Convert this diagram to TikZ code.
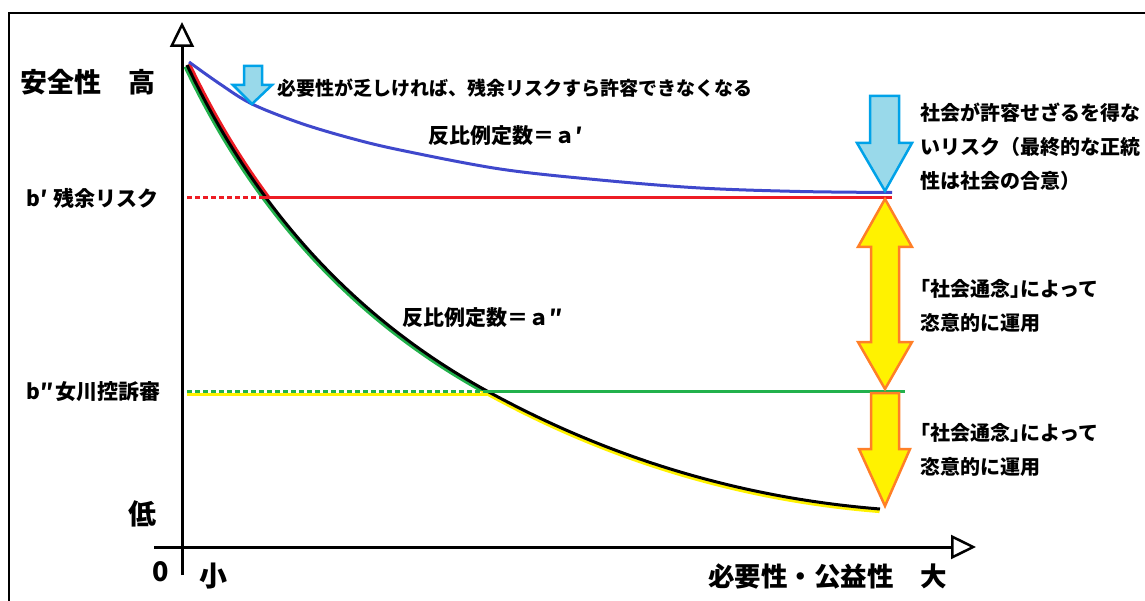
\documentclass[tikz,border=0pt]{standalone}
\usepackage{fontspec}
\newfontfamily\jp{Noto Sans CJK JP}
\newfontfamily\jph{Noto Sans CJK JP}[RawFeature=+halt]
\usetikzlibrary{arrows.meta}
\definecolor{cblue}{HTML}{3F48CC}
\definecolor{cred}{HTML}{ED1C24}
\definecolor{cgreen}{HTML}{22B14C}
\definecolor{cyellow}{HTML}{FFF200}
\definecolor{corange}{HTML}{FF7F27}
\definecolor{lblue}{HTML}{99D9EA}
\definecolor{dblue}{HTML}{00A2E8}
\newcommand{\blackcurve}{(187,65) .. controls (262,223) and (367,325) .. (487,391) .. controls (617,462.5) and (750,498.6) .. (880,509)}
\newcommand{\tsn}{{\jph\bfseries 「}社会通念{\jph\bfseries 」}によって\\恣意的に運用}
\begin{document}
\begin{tikzpicture}[x=1pt,y=-1pt,
  curve/.style={line width=3pt},
  axis/.style={line width=3pt,-{Triangle[open,length=25pt,width=24pt,line width=2.5pt]}},
  blueArrow/.style={draw=dblue,fill=lblue,line width=2.5pt},
  yArrow/.style={draw=corange,fill=cyellow,line width=2.5pt},
  lbl/.style={inner sep=0pt,anchor=west,font=\jp\bfseries\fontsize{21pt}{25pt}\selectfont},
  big/.style={inner sep=0pt,anchor=west,font=\jp\bfseries\fontsize{27pt}{30pt}\selectfont},
  note/.style={inner sep=0pt,anchor=west,align=left,font=\jp\bfseries\fontsize{20pt}{34pt}\selectfont},
  dashline/.style={line width=3pt,dash pattern=on 5pt off 3pt}
]
\useasboundingbox (0,0) rectangle (1145,601);
% frame
\draw[line width=2pt] (9,601) -- (9,13) -- (1145,13);

% coloured traces along the black curve
\begin{scope}
  \clip (0,0) rectangle (1145,198);
  \draw[curve,cred,shift={(2.5,-1)}] \blackcurve;
\end{scope}
\begin{scope}
  \clip (0,0) rectangle (1145,391);
  \draw[curve,cgreen,shift={(-2,1.8)}] \blackcurve;
\end{scope}
\begin{scope}
  \clip (0,391) rectangle (1145,601);
  \draw[curve,cyellow,shift={(-0.5,2.6)}] \blackcurve;
\end{scope}
\draw[curve,black] \blackcurve;

% blue curve
\draw[curve,cblue] plot[smooth,tension=0.55] coordinates {(189,62) (220,84) (252,104) (300,123) (350,138) (400,150) (500,169) (600,180) (700,188) (800,191.5) (892,192.5)};

% horizontal levels
\coordinate (bpl) at (187,198);
\coordinate (bpc) at (264,198);
\coordinate (bpr) at (892,198);
\coordinate (bql) at (187,391);
\coordinate (bqc) at (487,391);
\coordinate (bqr) at (905,391);
\coordinate (yl) at (187,394);
\coordinate (yc) at (487,394);
\draw[dashline,cred] (bpl) -- (bpc);
\draw[curve,cred] (bpc) -- (bpr);
\draw[curve,cyellow] (yl) -- (yc);
\draw[dashline,cgreen] (bql) -- (bqc);
\draw[curve,cgreen] (bqc) -- (bqr);

% axes
\coordinate (ybot) at (182,575);
\coordinate (ytop) at (182,22);
\coordinate (xl) at (154,547);
\coordinate (xr) at (976,547);
\draw[axis] (ybot) -- (ytop);
\draw[axis] (xl) -- (xr);

% arrows
\draw[blueArrow] (244,66) -- (262,66) -- (262,85) -- (272,85) -- (252,104) -- (233,85) -- (244,85) -- cycle;
\draw[blueArrow] (870,96) -- (899,96) -- (899,143) -- (912,143) -- (885,191) -- (857,143) -- (870,143) -- cycle;
\draw[yArrow] (885,199) -- (912,247) -- (899,247) -- (899,342) -- (912,342) -- (885,389) -- (858,342) -- (871,342) -- (871,247) -- (858,247) -- cycle;
\draw[yArrow] (871,393) -- (899,393) -- (899,449) -- (910,449) -- (885,506) -- (859,449) -- (871,449) -- cycle;

% texts
\node[big] (tsafe) at (20,82) {安全性　高};
\node[big,font=\jp\bfseries\fontsize{28pt}{30pt}\selectfont] (tlow) at (128,514) {低};
\node[big] (tzero) at (152,572) {0};
\node[big,font=\jp\bfseries\fontsize{28pt}{30pt}\selectfont] (tsmall) at (199,576) {小};
\node[big,font=\jp\bfseries\fontsize{26.5pt}{30pt}\selectfont] (tneed) at (708,576) {必要性・公益性　大};
\node[lbl] (tbp) at (26,198) {b′\hspace{0.3em}残余リスク};
\node[lbl] (tbq) at (26,392) {b″\hspace{0.1em}女川控訴審};
\node[lbl,font=\jp\bfseries\fontsize{19pt}{22pt}\selectfont] (tnote) at (277,88) {必要性が乏しければ、残余リスクすら許容できなくなる};
\node[lbl] (ta1) at (428,136) {反比例定数＝ａ′};
\node[lbl] (ta2) at (402,318) {反比例定数＝ａ″};
\node[note] (tsoc) at (920,147) {社会が許容せざるを得な\\いリスク（最終的な正統\\性は社会の合意）};
\node[note] (tn1) at (920,306) {\tsn};
\node[note] (tn2) at (920,450) {\tsn};
\end{tikzpicture}
\end{document}
